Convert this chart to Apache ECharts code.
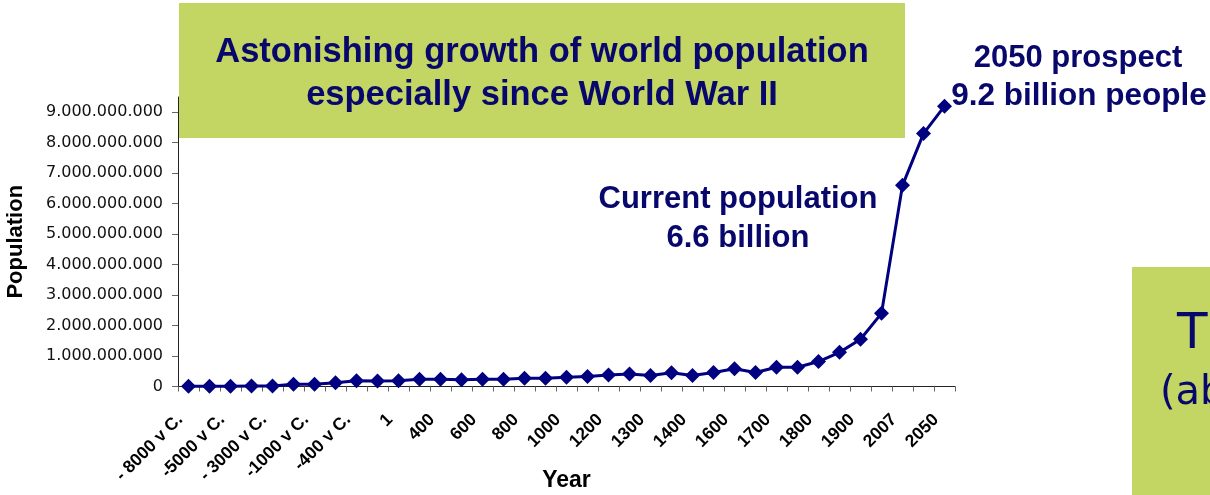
<!DOCTYPE html>
<html>
<head>
<meta charset="utf-8">
<script src="https://cdn.jsdelivr.net/npm/echarts@6/dist/echarts.min.js"></script>
<style>
  html, body { margin: 0; padding: 0; background: #ffffff; }
  #chart { width: 1210px; height: 495px; }
</style>
</head>
<body>
<div id="chart"></div>
<script>
// Categories (every other one is labelled on the axis)
const categories = [
  '- 8000 v C.', '-6000 v C.', '-5000 v C.', '-4000 v C.', '- 3000 v C.', '-2000 v C.',
  '-1000 v C.', '-500 v C.', '-400 v C.', '-200 v C.', '1', '200',
  '400', '500', '600', '700', '800', '900',
  '1000', '1100', '1200', '1250', '1300', '1340',
  '1400', '1500', '1600', '1650', '1700', '1750',
  '1800', '1850', '1900', '1950', '2007', '2025', '2050'
];

// World population
const population = [
  5000000, 5000000, 10000000, 15000000, 20000000, 70000000,
  70000000, 120000000, 190000000, 180000000, 190000000, 240000000,
  240000000, 220000000, 240000000, 240000000, 270000000, 270000000,
  300000000, 330000000, 380000000, 410000000, 360000000, 450000000,
  360000000, 460000000, 580000000, 460000000, 630000000, 630000000,
  820000000, 1120000000, 1550000000, 2400000000, 6600000000, 8300000000, 9200000000
];

// Y axis tick values
const yTicks = [0, 1000000000, 2000000000, 3000000000, 4000000000, 5000000000,
                6000000000, 7000000000, 8000000000, 9000000000];

const titleLines = ['Astonishing growth of world population', 'especially since World War II'];
const currentLines = ['Current population', '6.6 billion'];
const prospectLines = ['2050 prospect', '9.2 billion people'];

const NAVY = '#000080';
const TEXT_NAVY = '#08086c';
const GREEN = '#c3d563';

function dots(v) {
  return String(Math.round(v)).replace(/\B(?=(\d{3})+(?!\d))/g, '.');
}

const chart = echarts.init(document.getElementById('chart'), null, { renderer: 'canvas' });

chart.setOption({
  animation: false,
  backgroundColor: '#ffffff',
  grid: { left: 178, right: 255, top: 97, bottom: 108.5, containLabel: false, outerBoundsMode: 'none' },
  xAxis: {
    type: 'category',
    data: categories,
    boundaryGap: true,
    name: 'Year',
    nameLocation: 'middle',
    nameGap: 83,
    nameMoveOverlap: false,
    nameTextStyle: { fontFamily: '"Liberation Sans", Arial, sans-serif', fontWeight: 700, fontSize: 23, color: '#000' },
    axisLine: { show: true, lineStyle: { color: '#222', width: 1 } },
    axisTick: { show: true, interval: 0, length: 5, lineStyle: { color: '#666' } },
    axisLabel: {
      interval: 1,
      rotate: 45,
      margin: 22,
      padding: [0, 12, 0, 0],
      fontFamily: '"Liberation Sans", Arial, sans-serif',
      fontWeight: 700,
      fontSize: 17.5,
      color: '#000'
    },
    splitLine: { show: false }
  },
  yAxis: {
    type: 'value',
    min: 0,
    max: 9500000000,
    interval: 1000000000,
    name: 'Population',
    nameLocation: 'middle',
    nameRotate: 90,
    nameGap: 151,
    nameMoveOverlap: false,
    nameTextStyle: { fontFamily: '"Liberation Sans", Arial, sans-serif', fontWeight: 700, fontSize: 22, color: '#000' },
    axisLine: { show: true, lineStyle: { color: '#222', width: 1 } },
    axisTick: { show: true, length: 6, customValues: yTicks, lineStyle: { color: '#666' } },
    axisLabel: {
      customValues: yTicks,
      margin: 15,
      fontFamily: 'DejaVu Sans',
      fontSize: 16,
      color: '#111',
      formatter: function (v) { return dots(v); }
    },
    splitLine: { show: false }
  },
  series: [{
    type: 'line',
    data: population,
    symbol: 'diamond',
    symbolSize: 15,
    showAllSymbol: true,
    lineStyle: { color: NAVY, width: 3 },
    itemStyle: { color: NAVY },
    z: 3
  }],
  graphic: [
    { type: 'rect', z: 10, shape: { x: 179, y: 3, width: 726, height: 135 }, style: { fill: GREEN } },
    { type: 'text', z: 11, style: { text: titleLines[0], x: 542, y: 52, textAlign: 'center', textVerticalAlign: 'middle',
        font: 'bold 34.5px "Liberation Sans"', fill: TEXT_NAVY } },
    { type: 'text', z: 11, style: { text: titleLines[1], x: 542, y: 95, textAlign: 'center', textVerticalAlign: 'middle',
        font: 'bold 34.5px "Liberation Sans"', fill: TEXT_NAVY } },
    { type: 'text', z: 11, style: { text: currentLines[0], x: 738, y: 199, textAlign: 'center', textVerticalAlign: 'middle',
        font: 'bold 31px "Liberation Sans"', fill: TEXT_NAVY } },
    { type: 'text', z: 11, style: { text: currentLines[1], x: 738, y: 238, textAlign: 'center', textVerticalAlign: 'middle',
        font: 'bold 31px "Liberation Sans"', fill: TEXT_NAVY } },
    { type: 'text', z: 11, style: { text: prospectLines[0], x: 1078, y: 58, textAlign: 'center', textVerticalAlign: 'middle',
        font: 'bold 31px "Liberation Sans"', fill: TEXT_NAVY } },
    { type: 'text', z: 11, style: { text: prospectLines[1], x: 1079, y: 96, textAlign: 'center', textVerticalAlign: 'middle',
        font: 'bold 31.5px "Liberation Sans"', fill: TEXT_NAVY } },
    { type: 'rect', z: 10, shape: { x: 1132, y: 267, width: 90, height: 240 }, style: { fill: GREEN } },
    { type: 'text', z: 11, style: { text: 'T', x: 1177, y: 310, textAlign: 'left', textVerticalAlign: 'top',
        font: '50px "DejaVu Sans"', fill: TEXT_NAVY } },
    { type: 'text', z: 11, style: { text: '(about', x: 1160, y: 374, textAlign: 'left', textVerticalAlign: 'top',
        font: '40px "DejaVu Sans"', fill: TEXT_NAVY } }
  ]
});
</script>
</body>
</html>
